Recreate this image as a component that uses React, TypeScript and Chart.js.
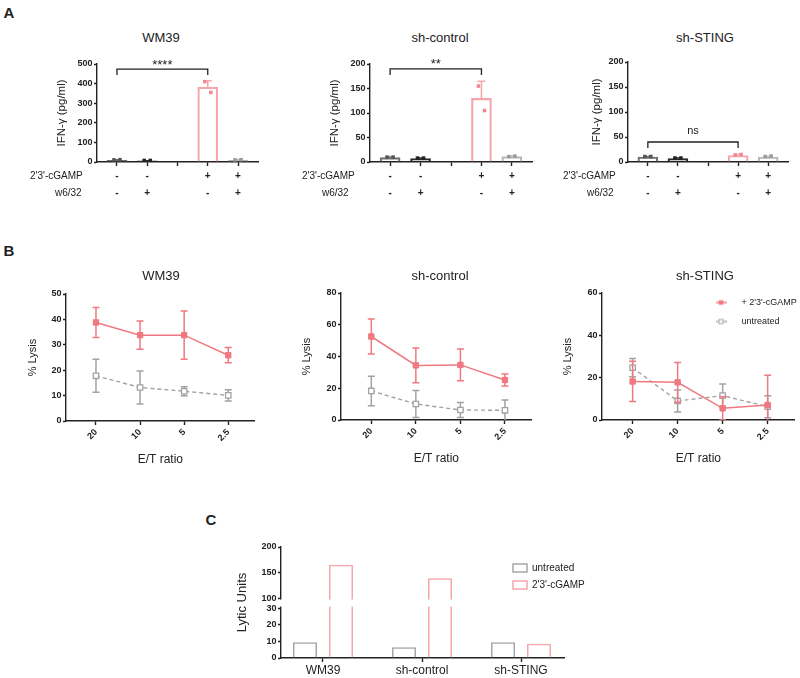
import React, { useEffect, useRef } from 'react';
import { Chart, registerables, LinearScale } from 'chart.js';

Chart.register(...registerables);

const FONT = "'Liberation Sans', Arial, Helvetica, sans-serif";
Chart.defaults.font.family = FONT;
Chart.defaults.color = '#222222';

/* ================= DATA ================= */
// Panel A – IFN-γ (pg/ml)
const ifnPanels = ['WM39', 'sh-control', 'sh-STING'];
const cgampSigns = ['-', '-', '', '+', '+'];
const w632Signs = ['-', '+', '', '-', '+'];
const ifnMeanWM39 = [9, 6, null, 382, 9];
const ifnMeanShControl = [9, 7, null, 130, 11];
const ifnMeanShSTING = [10, 7, null, 13, 10];
const ifnErrWM39 = [2, 1, null, 33, 2];
const ifnErrShControl = [1, 1, null, 35, 1];
const ifnErrShSTING = [1, 1, null, 2, 1];
const ifnRepAWM39 = [11, 8, null, 410, 11];
const ifnRepBWM39 = [12, 8, null, 355, 12];
const ifnRepAShControl = [10, 8, null, 155, 11];
const ifnRepBShControl = [10, 8, null, 105, 12];
const ifnRepAShSTING = [11, 8, null, 14, 11];
const ifnRepBShSTING = [11, 8, null, 15, 12];
const ifnYMax = [500, 200, 200];
const ifnYStep = [100, 50, 50];
const sigFrom = 0;
const sigTo = 3;
const sigLevel = [474, 190, 40];
const sigText = ['****', '**', 'ns'];

// Panel B – % Lysis
const lysisPanels = ['WM39', 'sh-control', 'sh-STING'];
const etRatios = ['20', '10', '5', '2.5'];
const lysisTreatedWM39 = [38.8, 33.8, 33.8, 25.9];
const lysisTreatedErrWM39 = [5.9, 5.6, 9.5, 3.0];
const lysisUntreatedWM39 = [17.8, 13.2, 11.7, 10.1];
const lysisUntreatedErrWM39 = [6.5, 6.5, 1.8, 2.2];
const lysisTreatedShControl = [52.6, 34.4, 34.7, 25.2];
const lysisTreatedErrShControl = [11, 11, 10, 3.8];
const lysisUntreatedShControl = [18.3, 10.1, 6.3, 6.1];
const lysisUntreatedErrShControl = [9.3, 8.5, 4.8, 6.5];
const lysisTreatedShSTING = [18.2, 17.8, 5.5, 7.1];
const lysisTreatedErrShSTING = [9.5, 9.4, 5.5, 14];
const lysisUntreatedShSTING = [24.7, 9.0, 11.5, 6.3];
const lysisUntreatedErrShSTING = [4.3, 5.2, 5.5, 5.2];
const lysisYMax = [50, 80, 60];
const lysisYStep = [10, 20, 20];

// Panel C – Lytic Units
const luCellLines = ['WM39', 'sh-control', 'sh-STING'];
const luUntreated = [9.5, 6.5, 9.5];
const luCgamp = [165, 139, 8.5];
const luTicks = [0, 10, 20, 30, 100, 150, 200];
const luBreak = [30, 100];

/* ================= STYLE / GEOMETRY ================= */
const INK = '#222222';
const PINK_LINE = '#f07880';
const PINK_BAR = '#f5a6ad';
const PINK_DOT = '#ef8890';
const GRAY_LINE = '#a2a2a2';
const GRAY_BAR = '#a6a6a6';
const NONE = 'rgba(0,0,0,0)';
const condBarColors = ['#707070', '#2a2a2a', NONE, PINK_BAR, '#b8b8b8'];
const condDotColors = ['#555555', '#222222', NONE, PINK_DOT, '#9a9a9a'];
const sigFont = [13, 13, 11];
const sigGap = [0.5, 0.5, 8];
const LU_LOW_FRAC = 0.45;
const LU_GAP_FRAC = 0.09;

type Area = { l: number; t: number; r: number; b: number };
type Frame = {
  left: number; top: number; width: number; height: number;
  yAxisW: number; yTitlePad: number; padTop: number; padRight: number; hx: number;
};

function makeFrame(a: Area, yTitleX: number, yTitleSize: number, hx: number, padTop: number, padRight: number): Frame {
  const half = (yTitleSize * 1.2) / 2;
  const left = Math.floor(yTitleX - half - 1);
  const top = a.t - padTop;
  const width = Math.round(a.r + padRight - left);
  const height = Math.round(a.b + hx - top);
  return {
    left, top, width, height,
    yAxisW: a.l - left,
    yTitlePad: yTitleX - left - half,
    padTop,
    padRight: width - (a.r - left),
    hx,
  };
}

const A_TITLE_SIZE = 11.5;
const B_TITLE_SIZE = 11;
const A_FRAMES = [
  makeFrame({ l: 97, t: 64, r: 258, b: 162 }, 62, A_TITLE_SIZE, 42, 12, 4),
  makeFrame({ l: 370, t: 64, r: 532, b: 162 }, 335, A_TITLE_SIZE, 42, 12, 4),
  makeFrame({ l: 628, t: 62, r: 788, b: 162 }, 597, A_TITLE_SIZE, 42, 12, 4),
];
const B_FRAMES = [
  makeFrame({ l: 66, t: 294, r: 258, b: 421 }, 33, B_TITLE_SIZE, 46, 12, 2),
  makeFrame({ l: 341, t: 293, r: 535, b: 420 }, 307, B_TITLE_SIZE, 46, 12, 2),
  makeFrame({ l: 602, t: 293, r: 798, b: 420 }, 568, B_TITLE_SIZE, 46, 12, 2),
];
const C_FRAME = makeFrame({ l: 281, t: 547, r: 564, b: 658 }, 242, 13, 20, 10, 4);
const B_LEGEND_FRAME: Frame = { left: 695, top: 288, width: 104, height: 100, yAxisW: 0, yTitlePad: 0, padTop: 0, padRight: 0, hx: 0 };
const C_LEGEND_FRAME: Frame = { left: 506, top: 556, width: 90, height: 92, yAxisW: 0, yTitlePad: 0, padTop: 0, padRight: 0, hx: 0 };

/* ================= PLUGINS / SCALE ================= */
const errorBarPlugin = {
  id: 'errorBars',
  beforeDatasetDraw(chart: any, args: any) {
    const ds: any = chart.data.datasets[args.index];
    if (!ds.errors) return;
    const xs = chart.scales.x;
    const ys = chart.scales.y;
    const ctx = chart.ctx;
    const ca = chart.chartArea;
    ctx.save();
    ctx.beginPath();
    ctx.rect(ca.left - 10, ca.top - 10, ca.right - ca.left + 20, ca.bottom - ca.top + 10);
    ctx.clip();
    ctx.lineWidth = 1.5;
    ds.data.forEach((p: any, i: number) => {
      const e = ds.errors[i];
      if (e == null || p == null || p.y == null) return;
      ctx.strokeStyle = Array.isArray(ds.errorColor) ? ds.errorColor[i] : ds.errorColor;
      const x = xs.getPixelForValue(p.x);
      const yTop = ys.getPixelForValue(p.y + e);
      const yBot = ys.getPixelForValue(ds.errorUpOnly ? p.y : p.y - e);
      const cap = ds.errorCap / 2;
      ctx.beginPath();
      ctx.moveTo(x, yBot);
      ctx.lineTo(x, yTop);
      ctx.moveTo(x - cap, yTop);
      ctx.lineTo(x + cap, yTop);
      if (!ds.errorUpOnly) {
        ctx.moveTo(x - cap, yBot);
        ctx.lineTo(x + cap, yBot);
      }
      ctx.stroke();
    });
    ctx.restore();
  },
};

const bracketPlugin = {
  id: 'sigBracket',
  afterDatasetsDraw(chart: any, _args: any, opts: any) {
    if (!opts || opts.value == null) return;
    const xs = chart.scales.x;
    const ys = chart.scales.y;
    const ctx = chart.ctx;
    const x1 = xs.getPixelForValue(opts.from);
    const x2 = xs.getPixelForValue(opts.to);
    const y = ys.getPixelForValue(opts.value);
    ctx.save();
    ctx.strokeStyle = INK;
    ctx.lineWidth = 1.3;
    ctx.beginPath();
    ctx.moveTo(x1, y + 6);
    ctx.lineTo(x1, y);
    ctx.lineTo(x2, y);
    ctx.lineTo(x2, y + 6);
    ctx.stroke();
    ctx.fillStyle = INK;
    ctx.font = `${opts.fontSize}px ${FONT}`;
    ctx.textAlign = 'center';
    ctx.textBaseline = 'alphabetic';
    ctx.fillText(opts.text, (x1 + x2) / 2, y - opts.gap);
    ctx.restore();
  },
};

const axisBreakPlugin = {
  id: 'axisBreak',
  afterDatasetsDraw(chart: any) {
    const ys = chart.scales.y;
    const ca = chart.chartArea;
    const ctx = chart.ctx;
    const yHi = ys.getPixelForValue(luBreak[1]);
    const yLo = ys.getPixelForValue(luBreak[0]);
    ctx.save();
    ctx.fillStyle = '#ffffff';
    ctx.fillRect(ca.left - 2, yHi + 1.5, ca.right - ca.left + 2, yLo - yHi - 3);
    ctx.restore();
  },
};

class BrokenLinearScale extends (LinearScale as any) {
  static id = 'brokenLinear';
  static defaults = {};
  _dec(v: number) {
    const lo = luBreak[0];
    const hi = luBreak[1];
    const min = (this as any).min;
    const max = (this as any).max;
    if (v <= lo) return ((v - min) / (lo - min)) * LU_LOW_FRAC;
    if (v >= hi) return LU_LOW_FRAC + LU_GAP_FRAC + ((v - hi) / (max - hi)) * (1 - LU_LOW_FRAC - LU_GAP_FRAC);
    return LU_LOW_FRAC + ((v - lo) / (hi - lo)) * LU_GAP_FRAC;
  }
  getPixelForValue(value: any) {
    if (value === null || value === undefined || Number.isNaN(+value)) return NaN;
    return (this as any).getPixelForDecimal(this._dec(+value));
  }
  getValueForPixel(pixel: number) {
    const d = (this as any).getDecimalForPixel(pixel);
    const lo = luBreak[0];
    const hi = luBreak[1];
    const min = (this as any).min;
    const max = (this as any).max;
    if (d <= LU_LOW_FRAC) return min + (d / LU_LOW_FRAC) * (lo - min);
    if (d >= LU_LOW_FRAC + LU_GAP_FRAC) return hi + ((d - LU_LOW_FRAC - LU_GAP_FRAC) / (1 - LU_LOW_FRAC - LU_GAP_FRAC)) * (max - hi);
    return lo + ((d - LU_LOW_FRAC) / LU_GAP_FRAC) * (hi - lo);
  }
}
Chart.register(BrokenLinearScale as any);

/* ================= AXIS HELPERS ================= */
const axisBorder = { display: true, color: INK, width: 1.4 };
const tickGrid = (len: number) => ({
  display: true, drawOnChartArea: false, drawTicks: true, tickLength: len,
  tickColor: INK, tickWidth: 1.4, offset: false,
});
const common = { responsive: false, animation: false, events: [] as any[] };

function yAxisOpts(f: Frame, max: number, step: number, title: string, titleSize: number) {
  return {
    type: 'linear', min: 0, max,
    ticks: { stepSize: step, font: { size: 9, weight: 'bold' }, color: INK, padding: 1.5 },
    grid: tickGrid(3),
    border: axisBorder,
    title: { display: true, text: title, color: INK, font: { size: titleSize }, padding: { top: f.yTitlePad, bottom: 0 } },
    afterFit: (s: any) => { s.width = f.yAxisW; },
  };
}

/* ================= CHART BUILDERS ================= */
const ifnMeans = [ifnMeanWM39, ifnMeanShControl, ifnMeanShSTING];
const ifnErrs = [ifnErrWM39, ifnErrShControl, ifnErrShSTING];
const ifnRepA = [ifnRepAWM39, ifnRepAShControl, ifnRepAShSTING];
const ifnRepB = [ifnRepBWM39, ifnRepBShControl, ifnRepBShSTING];

function buildIfn(canvas: HTMLCanvasElement, k: number) {
  const f = A_FRAMES[k];
  const mean = ifnMeans[k];
  const pts = mean.map((_, i) => i).filter((i) => mean[i] != null);
  const repData = (reps: (number | null)[], dx: number) =>
    pts.map((i) => ({ x: i + dx, y: reps[i] as number }));
  return new Chart(canvas, {
    type: 'bar',
    data: {
      datasets: [
        {
          type: 'bar',
          data: pts.map((i) => ({ x: i, y: mean[i] as number })),
          backgroundColor: NONE,
          borderColor: pts.map((i) => condBarColors[i]),
          borderWidth: 1.5,
          barThickness: 20,
          order: 2,
          errors: pts.map((i) => ifnErrs[k][i]),
          errorColor: pts.map((i) => condBarColors[i]),
          errorUpOnly: true,
          errorCap: 8,
        } as any,
        {
          type: 'scatter',
          data: repData(ifnRepA[k], -0.1),
          pointStyle: 'rect', pointRadius: 2.5, pointBorderWidth: 0,
          pointBackgroundColor: pts.map((i) => condDotColors[i]),
          order: 1,
        } as any,
        {
          type: 'scatter',
          data: repData(ifnRepB[k], 0.1),
          pointStyle: 'rect', pointRadius: 2.5, pointBorderWidth: 0,
          pointBackgroundColor: pts.map((i) => condDotColors[i]),
          order: 1,
        } as any,
      ],
    },
    options: {
      ...common,
      layout: { padding: { top: f.padTop, right: f.padRight, bottom: 0, left: 0 } },
      plugins: {
        legend: { display: false },
        tooltip: { enabled: false },
        sigBracket: { from: sigFrom, to: sigTo, value: sigLevel[k], text: sigText[k], fontSize: sigFont[k], gap: sigGap[k] },
      } as any,
      scales: {
        x: {
          type: 'linear', min: -0.66, max: 4.66, offset: false,
          afterBuildTicks: (s: any) => { s.ticks = cgampSigns.map((_, i) => ({ value: i })); },
          ticks: {
            autoSkip: false, maxRotation: 0, minRotation: 0, padding: 1.5, color: INK,
            font: { size: 10, weight: 'bold', lineHeight: 1.7 },
            callback: (_v: any, i: number) => [cgampSigns[i], w632Signs[i]],
          },
          grid: tickGrid(4),
          border: axisBorder,
          afterFit: (s: any) => { s.height = f.hx; },
        },
        y: yAxisOpts(f, ifnYMax[k], ifnYStep[k], 'IFN-γ (pg/ml)', A_TITLE_SIZE),
      } as any,
    },
    plugins: [errorBarPlugin, bracketPlugin],
  } as any);
}

const lysisTreated = [lysisTreatedWM39, lysisTreatedShControl, lysisTreatedShSTING];
const lysisTreatedErr = [lysisTreatedErrWM39, lysisTreatedErrShControl, lysisTreatedErrShSTING];
const lysisUntreated = [lysisUntreatedWM39, lysisUntreatedShControl, lysisUntreatedShSTING];
const lysisUntreatedErr = [lysisUntreatedErrWM39, lysisUntreatedErrShControl, lysisUntreatedErrShSTING];

function buildLysis(canvas: HTMLCanvasElement, k: number) {
  const f = B_FRAMES[k];
  return new Chart(canvas, {
    type: 'line',
    data: {
      datasets: [
        {
          label: "+ 2'3'-cGAMP",
          data: lysisTreated[k].map((y, i) => ({ x: i, y })),
          borderColor: PINK_LINE, backgroundColor: PINK_LINE, borderWidth: 1.5, tension: 0,
          pointStyle: 'rect', pointRadius: 3.8, pointBackgroundColor: PINK_LINE, pointBorderColor: PINK_LINE, pointBorderWidth: 1,
          errors: lysisTreatedErr[k], errorColor: PINK_LINE, errorCap: 7,
        } as any,
        {
          label: 'untreated',
          data: lysisUntreated[k].map((y, i) => ({ x: i, y })),
          borderColor: GRAY_LINE, backgroundColor: '#ffffff', borderWidth: 1.4, borderDash: [4, 3], tension: 0,
          pointStyle: 'rect', pointRadius: 3.8, pointBackgroundColor: '#ffffff', pointBorderColor: GRAY_LINE, pointBorderWidth: 1.3,
          errors: lysisUntreatedErr[k], errorColor: GRAY_LINE, errorCap: 7,
        } as any,
      ],
    },
    options: {
      ...common,
      layout: { padding: { top: f.padTop, right: f.padRight, bottom: 0, left: 0 } },
      plugins: { legend: { display: false }, tooltip: { enabled: false } },
      scales: {
        x: {
          type: 'linear', min: -0.68, max: 3.6, offset: false,
          afterBuildTicks: (s: any) => { s.ticks = etRatios.map((_, i) => ({ value: i })); },
          ticks: {
            autoSkip: false, minRotation: 45, maxRotation: 45, padding: 2, color: INK,
            font: { size: 9, weight: 'bold' },
            callback: (_v: any, i: number) => etRatios[i],
          },
          grid: tickGrid(4),
          border: axisBorder,
          title: { display: true, text: 'E/T ratio', color: INK, font: { size: 12 }, padding: { top: 0, bottom: 0 } },
          afterFit: (s: any) => { s.height = f.hx; },
        },
        y: yAxisOpts(f, lysisYMax[k], lysisYStep[k], '% Lysis', B_TITLE_SIZE),
      } as any,
    },
    plugins: [errorBarPlugin],
  } as any);
}

function makeSymbol(color: string, filled: boolean) {
  const c = document.createElement('canvas');
  c.width = 11;
  c.height = 8;
  const g = c.getContext('2d')!;
  g.strokeStyle = color;
  g.lineWidth = 1.4;
  g.beginPath();
  if (filled) {
    g.moveTo(0, 4); g.lineTo(11, 4);
  } else {
    g.moveTo(0, 4); g.lineTo(2.5, 4); g.moveTo(8.5, 4); g.lineTo(11, 4);
  }
  g.stroke();
  if (filled) {
    g.fillStyle = color;
    g.fillRect(3.25, 1.75, 4.5, 4.5);
  } else {
    g.fillStyle = '#ffffff';
    g.fillRect(3.5, 2, 4, 4);
    g.lineWidth = 1;
    g.strokeRect(3.5, 2, 4, 4);
  }
  return c;
}

function buildLysisLegend(canvas: HTMLCanvasElement) {
  return new Chart(canvas, {
    type: 'line',
    data: {
      labels: [''],
      datasets: [
        { label: "+ 2'3'-cGAMP", data: [null], pointStyle: makeSymbol(PINK_LINE, true), borderColor: PINK_LINE, backgroundColor: PINK_LINE } as any,
        { label: 'untreated', data: [null], pointStyle: makeSymbol(GRAY_LINE, false), borderColor: GRAY_LINE, backgroundColor: '#ffffff' } as any,
      ],
    },
    options: {
      ...common,
      scales: { x: { display: false }, y: { display: false } },
      plugins: {
        tooltip: { enabled: false },
        legend: {
          display: true, position: 'top', align: 'start',
          labels: { usePointStyle: true, pointStyleWidth: 32, boxHeight: 8, padding: 10, color: INK, font: { size: 9 } },
        },
      },
    },
  } as any);
}

function buildLytic(canvas: HTMLCanvasElement) {
  const f = C_FRAME;
  return new Chart(canvas, {
    type: 'bar',
    data: {
      datasets: [
        {
          label: 'untreated',
          data: luUntreated.map((y, i) => ({ x: i, y })),
          backgroundColor: NONE, borderColor: GRAY_BAR, borderWidth: 1.5,
          categoryPercentage: 0.727, barPercentage: 0.667,
        } as any,
        {
          label: "2'3'-cGAMP",
          data: luCgamp.map((y, i) => ({ x: i, y })),
          backgroundColor: NONE, borderColor: PINK_BAR, borderWidth: 1.5,
          categoryPercentage: 0.727, barPercentage: 0.667,
        } as any,
      ],
    },
    options: {
      ...common,
      layout: { padding: { top: f.padTop, right: f.padRight, bottom: 0, left: 0 } },
      plugins: { legend: { display: false }, tooltip: { enabled: false } },
      scales: {
        x: {
          type: 'linear', min: -0.424, max: 2.434, offset: false,
          afterBuildTicks: (s: any) => { s.ticks = luCellLines.map((_, i) => ({ value: i })); },
          ticks: {
            autoSkip: false, maxRotation: 0, minRotation: 0, padding: 1, color: INK,
            font: { size: 12 },
            callback: (_v: any, i: number) => luCellLines[i],
          },
          grid: tickGrid(4),
          border: axisBorder,
          afterFit: (s: any) => { s.height = f.hx; },
        },
        y: {
          type: 'brokenLinear', min: 0, max: 200,
          afterBuildTicks: (s: any) => { s.ticks = luTicks.map((v) => ({ value: v })); },
          ticks: { font: { size: 9, weight: 'bold' }, color: INK, padding: 1.5, callback: (v: any) => String(v) },
          grid: tickGrid(3),
          border: axisBorder,
          title: { display: true, text: 'Lytic Units', color: INK, font: { size: 13 }, padding: { top: f.yTitlePad, bottom: 0 } },
          afterFit: (s: any) => { s.width = f.yAxisW; },
        },
      } as any,
    },
    plugins: [axisBreakPlugin],
  } as any);
}

function buildLyticLegend(canvas: HTMLCanvasElement) {
  return new Chart(canvas, {
    type: 'bar',
    data: {
      labels: [''],
      datasets: [
        { label: 'untreated', data: [null], backgroundColor: NONE, borderColor: GRAY_BAR, borderWidth: 1.5 } as any,
        { label: "2'3'-cGAMP", data: [null], backgroundColor: NONE, borderColor: PINK_BAR, borderWidth: 1.5 } as any,
      ],
    },
    options: {
      ...common,
      scales: { x: { display: false }, y: { display: false } },
      plugins: {
        tooltip: { enabled: false },
        legend: {
          display: true, position: 'top', align: 'start',
          labels: { boxWidth: 14, boxHeight: 8, padding: 7, color: INK, font: { size: 10 } },
        },
      },
    },
  } as any);
}

/* ================= COMPONENTS ================= */
type Spec = { frame: Frame; build: (c: HTMLCanvasElement) => Chart };

const specs: Spec[] = [
  ...A_FRAMES.map((frame, k) => ({ frame, build: (c: HTMLCanvasElement) => buildIfn(c, k) })),
  ...B_FRAMES.map((frame, k) => ({ frame, build: (c: HTMLCanvasElement) => buildLysis(c, k) })),
  { frame: B_LEGEND_FRAME, build: buildLysisLegend },
  { frame: C_FRAME, build: buildLytic },
  { frame: C_LEGEND_FRAME, build: buildLyticLegend },
];

function ChartBox({ spec }: { spec: Spec }) {
  const ref = useRef<HTMLCanvasElement>(null);
  useEffect(() => {
    const chart = spec.build(ref.current as HTMLCanvasElement);
    return () => chart.destroy();
  }, [spec]);
  const f = spec.frame;
  return (
    <canvas
      ref={ref}
      width={f.width}
      height={f.height}
      style={{ position: 'absolute', left: f.left, top: f.top, width: f.width, height: f.height }}
    />
  );
}

type TextItem = { text: string; x: number; y: number; size: number; bold?: boolean; anchor?: 'left' | 'center' };

const titleXs = [161, 440, 705];
const textItems: TextItem[] = [
  { text: 'A', x: 9, y: 12, size: 15, bold: true },
  { text: 'B', x: 9, y: 250, size: 15, bold: true },
  { text: 'C', x: 211, y: 519, size: 15, bold: true },
  ...ifnPanels.map((t, i) => ({ text: t, x: titleXs[i], y: 37, size: 13 })),
  ...lysisPanels.map((t, i) => ({ text: t, x: titleXs[i], y: 275, size: 13 })),
  { text: "2'3'-cGAMP", x: 30, y: 176, size: 10, anchor: 'left' },
  { text: 'w6/32', x: 55, y: 193, size: 10, anchor: 'left' },
  { text: "2'3'-cGAMP", x: 302, y: 176, size: 10, anchor: 'left' },
  { text: 'w6/32', x: 322, y: 193, size: 10, anchor: 'left' },
  { text: "2'3'-cGAMP", x: 563, y: 176, size: 10, anchor: 'left' },
  { text: 'w6/32', x: 587, y: 193, size: 10, anchor: 'left' },
];

export default function App() {
  return (
    <div
      style={{
        position: 'absolute', left: 0, top: 0, width: 800, height: 678,
        background: '#ffffff', overflow: 'hidden', fontFamily: FONT, color: INK,
      }}
    >
      {specs.map((s, i) => (
        <ChartBox key={i} spec={s} />
      ))}
      {textItems.map((t, i) => (
        <div
          key={'t' + i}
          style={{
            position: 'absolute', left: t.x, top: t.y,
            transform: t.anchor === 'left' ? 'translateY(-50%)' : 'translate(-50%, -50%)',
            fontSize: t.size, fontWeight: t.bold ? 700 : 400, lineHeight: 1, whiteSpace: 'nowrap',
          }}
        >
          {t.text}
        </div>
      ))}
    </div>
  );
}
